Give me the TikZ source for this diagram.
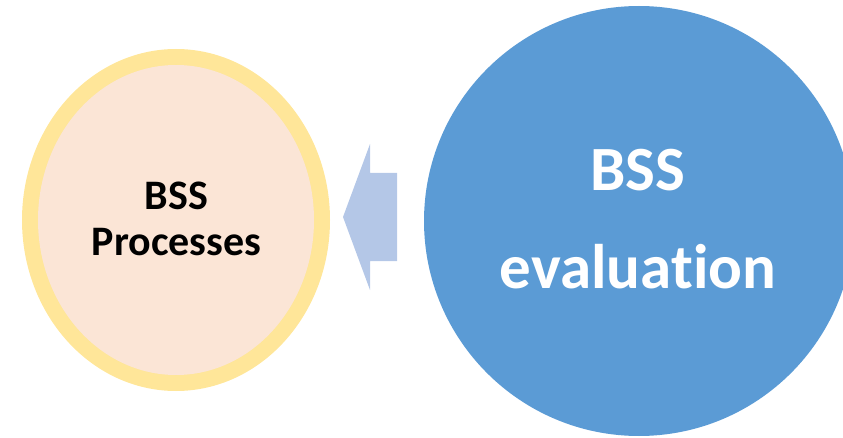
\documentclass[tikz,border=0pt]{standalone}
\usepackage{fontspec}
\setmainfont{Carlito}[Ligatures=NoCommon]
\definecolor{ringyellow}{HTML}{FFE699}
\definecolor{peach}{HTML}{FBE5D6}
\definecolor{bigblue}{HTML}{5B9BD5}
\definecolor{arrowblue}{HTML}{B4C7E7}
\tikzset{
  lbl/.style={anchor=base, inner sep=0pt, font=\bfseries},
}
\begin{document}
\begin{tikzpicture}[x=1pt,y=1pt]
\useasboundingbox (0,0) rectangle (843,437);
% right circle
\begin{scope}
\clip (0,0) rectangle (843,437);
\fill[bigblue] (639,216) circle[radius=215];
\end{scope}
% left ellipse
\fill[ringyellow] (176,217) ellipse[x radius=154, y radius=171];
\fill[peach] (176,217) ellipse[x radius=138, y radius=155];
% arrow
\fill[arrowblue] (343,220) -- (370,293) -- (370,264) -- (397,264) -- (397,176) -- (370,176) -- (370,147) -- cycle;
% texts
\node[lbl, font=\bfseries\fontsize{42}{42}\selectfont] (p1) at (176.5,227) {BSS};
\node[lbl, font=\bfseries\fontsize{42}{42}\selectfont] (p2) at (176.5,182) {Processes};
\node[lbl, text=white, font=\bfseries\fontsize{63}{63}\selectfont] (e1) at (638,246) {BSS};
\node[lbl, text=white, font=\bfseries\fontsize{63}{63}\selectfont] (e2) at (638,149) {evaluat\kern0pt ion};
\end{tikzpicture}
\end{document}
